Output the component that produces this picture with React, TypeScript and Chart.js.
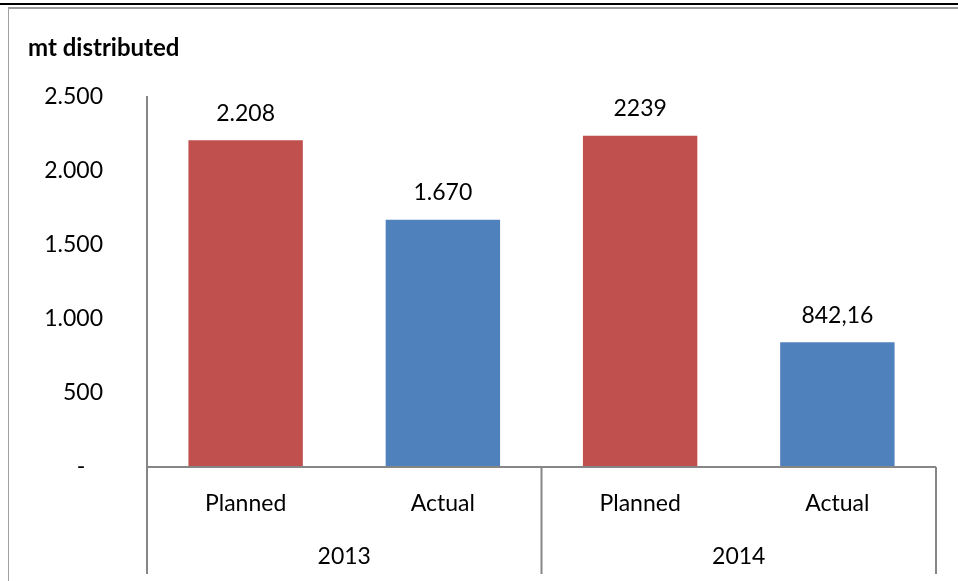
import React, { useEffect, useRef } from "react";
import { Chart, registerables } from "chart.js";

Chart.register(...registerables);

const subLabels = ["Planned", "Actual", "Planned", "Actual"];
const years = ["2013", "2014"];
const values = [2208, 1670, 2239, 842.16];
const valueLabels = ["2.208", "1.670", "2239", "842,16"];
const barColors = ["#C0504D", "#4F81BD", "#C0504D", "#4F81BD"];
const yTicks = [0, 500, 1000, 1500, 2000, 2500];
const title = "mt distributed";

const FONT = "Lato, 'Open Sans', sans-serif";
const W = 958;
const H = 581;

function fmt(v: number): string {
  if (v === 0) return "-   ";
  const s = String(Math.round(v));
  return s.replace(/\B(?=(\d{3})+(?!\d))/g, ".");
}

const decorPlugin = {
  id: "decor",
  beforeDraw(chart: any) {
    const ctx = chart.ctx;
    ctx.save();
    ctx.fillStyle = "#fff";
    ctx.fillRect(0, 0, W, H);
    ctx.fillStyle = "#000";
    ctx.fillRect(0, 3, W, 2);
    ctx.fillStyle = "#9a9a9a";
    ctx.fillRect(8, 7, W - 8, 2);
    ctx.fillStyle = "#a0a0a0";
    ctx.fillRect(8, 8, 1, H - 8);
    ctx.restore();
  },
  afterDraw(chart: any) {
    const ctx = chart.ctx;
    const area = chart.chartArea;
    const xs = chart.scales.x;
    const meta = chart.getDatasetMeta(0);
    ctx.save();
    ctx.strokeStyle = "#868686";
    ctx.lineWidth = 2;
    ctx.beginPath();
    ctx.moveTo(area.left, area.bottom);
    ctx.lineTo(area.right, area.bottom);
    ctx.stroke();
    const seps = [area.left, (xs.getPixelForValue(1) + xs.getPixelForValue(2)) / 2, area.right];
    seps.forEach((x) => {
      ctx.beginPath();
      ctx.moveTo(x, area.bottom);
      ctx.lineTo(x, area.bottom + 107);
      ctx.stroke();
    });
    ctx.fillStyle = "#000";
    ctx.font = `23px ${FONT}`;
    ctx.textAlign = "center";
    ctx.textBaseline = "middle";
    subLabels.forEach((l, i) => {
      ctx.fillText(l, xs.getPixelForValue(i), area.bottom + 37);
    });
    years.forEach((y, g) => {
      const cx = (xs.getPixelForValue(g * 2) + xs.getPixelForValue(g * 2 + 1)) / 2;
      ctx.fillText(y, cx, area.bottom + 90);
    });
    meta.data.forEach((bar: any, i: number) => {
      ctx.fillText(valueLabels[i], bar.x, bar.y - 27);
    });
    ctx.font = `bold 24px ${FONT}`;
    ctx.textAlign = "left";
    ctx.fillText(title, 28, 48);
    ctx.restore();
  },
};

export default function App() {
  const ref = useRef<HTMLCanvasElement | null>(null);
  useEffect(() => {
    if (!ref.current) return;
    const chart = new Chart(ref.current, {
      type: "bar",
      data: {
        labels: subLabels,
        datasets: [
          {
            data: values,
            backgroundColor: barColors,
            barPercentage: 0.58,
            categoryPercentage: 1,
          },
        ],
      },
      options: {
        responsive: false,
        animation: false,
        devicePixelRatio: 1,
        layout: { padding: { top: 97, right: 22, left: 0, bottom: 0 } },
        plugins: { legend: { display: false }, tooltip: { enabled: false } },
        scales: {
          x: {
            grid: { display: false },
            border: { display: false },
            ticks: { display: false },
            afterFit: (s: any) => {
              s.height = H - 467;
            },
          },
          y: {
            min: 0,
            max: 2500,
            afterBuildTicks: (s: any) => {
              s.ticks = yTicks.map((v) => ({ value: v }));
            },
            ticks: {
              callback: (v: any) => fmt(Number(v)),
              color: "#000",
              font: { family: FONT, size: 23 },
              padding: 44,
            },
            grid: { display: false, drawTicks: false },
            border: { display: true, color: "#868686", width: 2 },
            afterFit: (s: any) => {
              s.width = 147;
            },
          },
        },
      },
      plugins: [decorPlugin],
    });
    return () => chart.destroy();
  }, []);
  return (
    <div style={{ position: "fixed", left: 0, top: 0, width: W, height: H }}>
      <canvas ref={ref} width={W} height={H} />
    </div>
  );
}
